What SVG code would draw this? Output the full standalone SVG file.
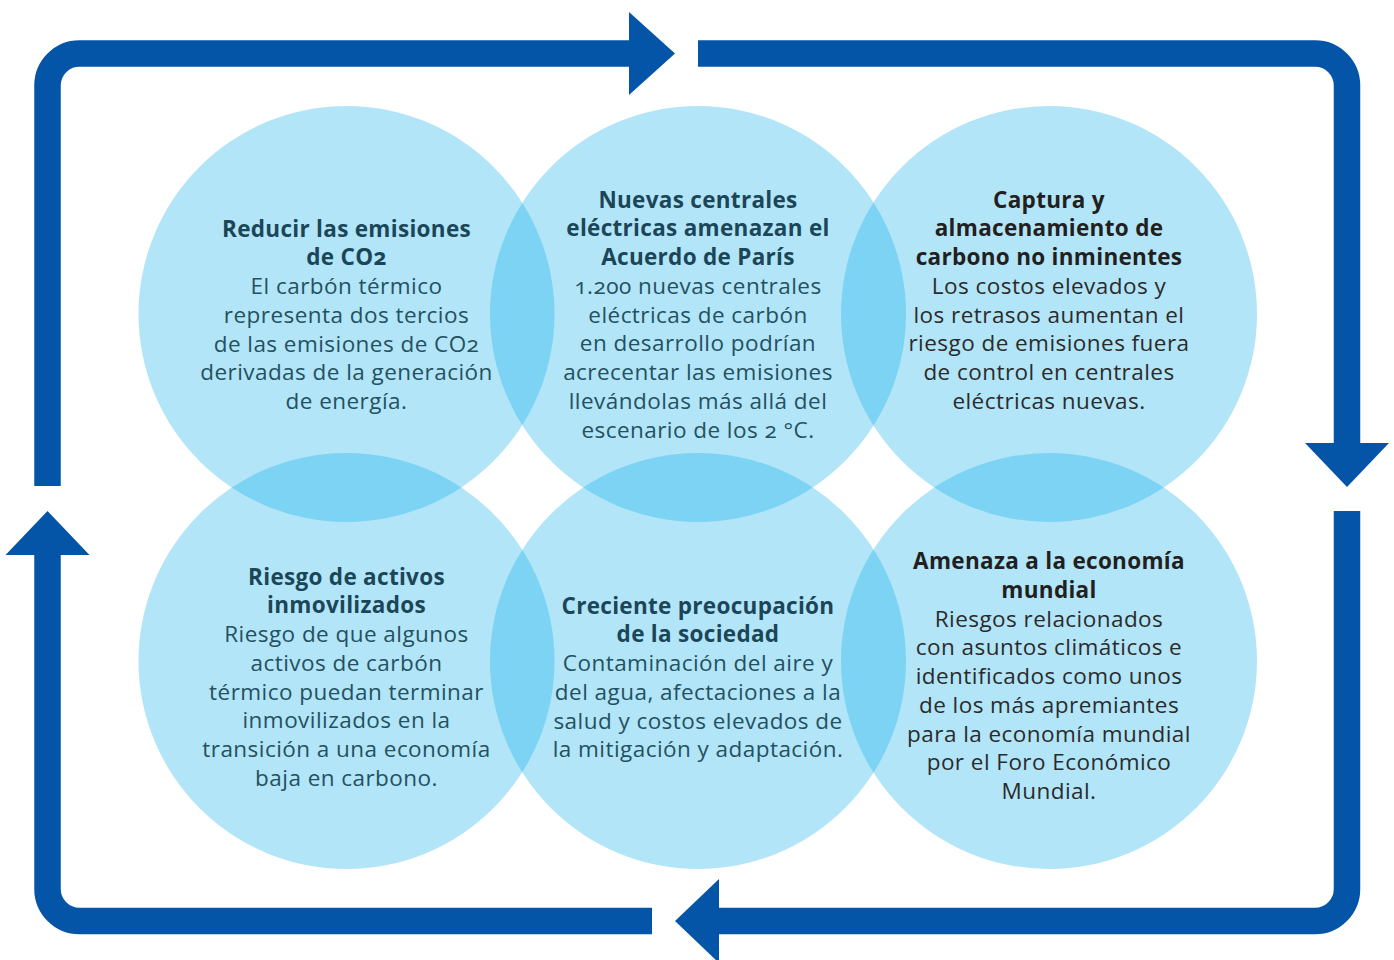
<svg xmlns="http://www.w3.org/2000/svg" width="1394" height="960" viewBox="0 0 1394 960">
  <style>
    .bubble { fill: #00a8e8; fill-opacity: 0.3; }
    .loop { fill: none; stroke: #0455a8; stroke-width: 26.5; stroke-linecap: butt; }
    .head { fill: #0455a8; }
    text { font-family: "Open Sans", Lato, "Liberation Sans", sans-serif; font-size: 22.5px; text-anchor: middle; font-feature-settings: "onum" 1; font-variant-numeric: oldstyle-nums; }
    .t { font-weight: bold; letter-spacing: 0.3px; }
    .b { letter-spacing: 0.45px; }
    .teal .t { fill: #1b4658; }
    .teal .b { fill: #24515f; }
    .dark .t { fill: #231f20; }
    .dark .b { fill: #2b2b2b; }
  </style>

  <!-- cycle of four arrows around the bubbles -->
  <g id="connectors">
    <path class="loop" d="M47.5 486 V85.5 A32 32 0 0 1 79.5 53.5 H631"/>
    <polygon class="head" points="629,12 675,53.5 629,95"/>
    <path class="loop" d="M698 53.5 H1315 A32 32 0 0 1 1347 85.5 V445"/>
    <polygon class="head" points="1305,443 1347,487 1389,443"/>
    <path class="loop" d="M1347 511 V889 A32 32 0 0 1 1315 921 H717"/>
    <polygon class="head" points="719,879 675,921 719,963"/>
    <path class="loop" d="M652 921 H79.5 A32 32 0 0 1 47.5 889 V553"/>
    <polygon class="head" points="5.5,555 47.5,511 89.5,555"/>
  </g>

  <g id="node-reducir" class="teal">
    <circle class="bubble" cx="346.5" cy="314" r="208"/>
    <text x="346.5" y="236.5"><tspan class="t">Reducir las emisiones</tspan><tspan class="t" x="346.5" dy="28.75">de CO2</tspan><tspan class="b" x="346.5" dy="28.75">El carbón térmico</tspan><tspan class="b" x="346.5" dy="28.75">representa dos tercios</tspan><tspan class="b" x="346.5" dy="28.75">de las emisiones de CO2</tspan><tspan class="b" x="346.5" dy="28.75">derivadas de la generación</tspan><tspan class="b" x="346.5" dy="28.75">de energía.</tspan></text>
  </g>

  <g id="node-nuevas" class="teal">
    <circle class="bubble" cx="698" cy="314" r="208"/>
    <text x="698" y="207.5"><tspan class="t">Nuevas centrales</tspan><tspan class="t" x="698" dy="28.75">eléctricas amenazan el</tspan><tspan class="t" x="698" dy="28.75">Acuerdo de París</tspan><tspan class="b" x="698" dy="28.75">1.200 nuevas centrales</tspan><tspan class="b" x="698" dy="28.75">eléctricas de carbón</tspan><tspan class="b" x="698" dy="28.75">en desarrollo podrían</tspan><tspan class="b" x="698" dy="28.75">acrecentar las emisiones</tspan><tspan class="b" x="698" dy="28.75">llevándolas más allá del</tspan><tspan class="b" x="698" dy="28.75">escenario de los 2 °C.</tspan></text>
  </g>

  <g id="node-captura" class="dark">
    <circle class="bubble" cx="1049" cy="314" r="208"/>
    <text x="1049" y="207.5"><tspan class="t">Captura y</tspan><tspan class="t" x="1049" dy="28.75">almacenamiento de</tspan><tspan class="t" x="1049" dy="28.75">carbono no inminentes</tspan><tspan class="b" x="1049" dy="28.75">Los costos elevados y</tspan><tspan class="b" x="1049" dy="28.75">los retrasos aumentan el</tspan><tspan class="b" x="1049" dy="28.75">riesgo de emisiones fuera</tspan><tspan class="b" x="1049" dy="28.75">de control en centrales</tspan><tspan class="b" x="1049" dy="28.75">eléctricas nuevas.</tspan></text>
  </g>

  <g id="node-riesgo" class="teal">
    <circle class="bubble" cx="346.5" cy="661" r="208"/>
    <text x="346.5" y="584.5"><tspan class="t">Riesgo de activos</tspan><tspan class="t" x="346.5" dy="28.75">inmovilizados</tspan><tspan class="b" x="346.5" dy="28.75">Riesgo de que algunos</tspan><tspan class="b" x="346.5" dy="28.75">activos de carbón</tspan><tspan class="b" x="346.5" dy="28.75">térmico puedan terminar</tspan><tspan class="b" x="346.5" dy="28.75">inmovilizados en la</tspan><tspan class="b" x="346.5" dy="28.75">transición a una economía</tspan><tspan class="b" x="346.5" dy="28.75">baja en carbono.</tspan></text>
  </g>

  <g id="node-creciente" class="teal">
    <circle class="bubble" cx="698" cy="661" r="208"/>
    <text x="698" y="613.5"><tspan class="t">Creciente preocupación</tspan><tspan class="t" x="698" dy="28.75">de la sociedad</tspan><tspan class="b" x="698" dy="28.75">Contaminación del aire y</tspan><tspan class="b" x="698" dy="28.75">del agua, afectaciones a la</tspan><tspan class="b" x="698" dy="28.75">salud y costos elevados de</tspan><tspan class="b" x="698" dy="28.75">la mitigación y adaptación.</tspan></text>
  </g>

  <g id="node-amenaza" class="dark">
    <circle class="bubble" cx="1049" cy="661" r="208"/>
    <text x="1049" y="569"><tspan class="t">Amenaza a la economía</tspan><tspan class="t" x="1049" dy="28.75">mundial</tspan><tspan class="b" x="1049" dy="28.75">Riesgos relacionados</tspan><tspan class="b" x="1049" dy="28.75">con asuntos climáticos e</tspan><tspan class="b" x="1049" dy="28.75">identificados como unos</tspan><tspan class="b" x="1049" dy="28.75">de los más apremiantes</tspan><tspan class="b" x="1049" dy="28.75">para la economía mundial</tspan><tspan class="b" x="1049" dy="28.75">por el Foro Económico</tspan><tspan class="b" x="1049" dy="28.75">Mundial.</tspan></text>
  </g>
</svg>
